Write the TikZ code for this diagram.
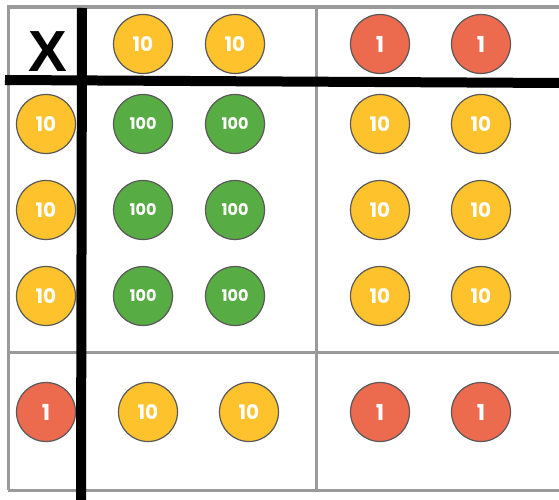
\documentclass[tikz,border=0pt]{standalone}
\usepackage{fontspec}
\newfontfamily\popfont{Poppins}
\newfontfamily\xfont{Liberation Sans}
\definecolor{coinY}{HTML}{FDC22C}
\definecolor{coinG}{HTML}{58AC44}
\definecolor{coinR}{HTML}{EC6A4E}
\definecolor{gridgray}{HTML}{9A9A9A}
\tikzset{
  coin/.style={circle, minimum size=59pt, inner sep=0pt, draw=black!65, line width=1.2pt, text=white, font=\popfont\bfseries\fontsize{20}{20}\selectfont},
  ten/.style={coin, fill=coinY},
  hund/.style={coin, fill=coinG, font=\popfont\bfseries\fontsize{16}{16}\selectfont},
  one/.style={coin, fill=coinR, font=\popfont\bfseries\fontsize{22}{22}\selectfont},
  gridline/.style={draw=gridgray, line width=3pt},
  boldline/.style={draw=black, line width=10pt}
}
\begin{document}
\begin{tikzpicture}[x=1pt,y=-1pt]
\useasboundingbox (0,0) rectangle (559,500);
\fill[white] (0,0) rectangle (559,500);
% grid
\draw[gridline, line width=4pt] (8,7) -- (559,7);
\draw[gridline] (8,5) -- (8,490);
\draw[gridline] (8,490) -- (559,490);
\draw[gridline] (8,352) -- (559,352);
\draw[gridline] (316,5) -- (316,490);
% coins top row
\node[ten] (t1) at (143,44) {10};
\node[ten] (t2) at (235,44) {10};
\node[one] (t3) at (380,44) {1};
\node[one] (t4) at (481,44) {1};
% rows 2-4
\foreach \r/\y in {2/124,3/210,4/296}{
  \node[ten] (l\r) at (46,\y) {10};
  \node[hund] (g\r a) at (143,\y) {100};
  \node[hund] (g\r b) at (235,\y) {100};
  \node[ten] (y\r a) at (380,\y) {10};
  \node[ten] (y\r b) at (481,\y) {10};
}
% bottom row
\node[one] (b0) at (46,412) {1};
\node[ten] (b1) at (148,412) {10};
\node[ten] (b2) at (249,412) {10};
\node[one] (b3) at (380,412) {1};
\node[one] (b4) at (481,412) {1};
% bold lines
\draw[boldline] (5,80) -- (559,83);
\draw[boldline] (82,8) -- (81,500);
\node[font=\xfont\bfseries\fontsize{58}{58}\selectfont, inner sep=0pt] (x) at (48,52) {X};
\end{tikzpicture}
\end{document}
